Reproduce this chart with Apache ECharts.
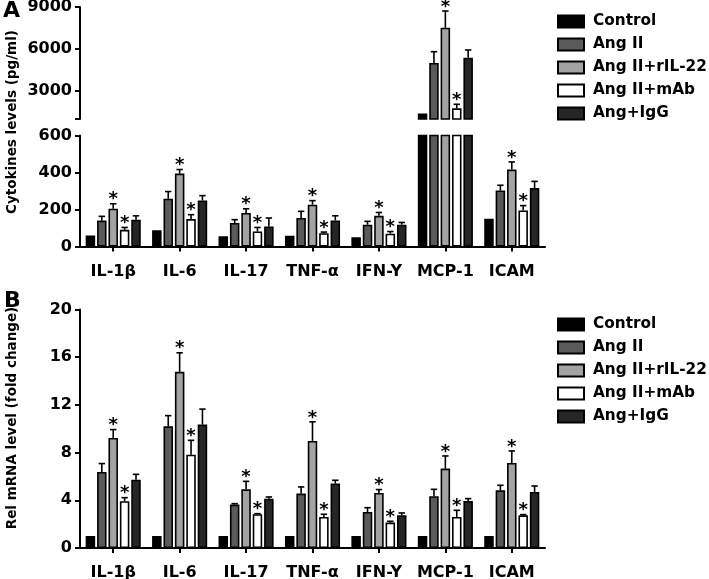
<!DOCTYPE html>
<html>
<head>
<meta charset="utf-8">
<script src="https://cdn.jsdelivr.net/npm/echarts@6.0.0/dist/echarts.min.js"></script>
<style>html,body{margin:0;padding:0;background:#fff;}#c{width:709px;height:579px;}</style>
</head>
<body>
<div id="c"></div>
<script>
// ---------- data ----------
const categories = ['IL-1β', 'IL-6', 'IL-17', 'TNF-α', 'IFN-Y', 'MCP-1', 'ICAM'];
const groupNames = ['Control', 'Ang II', 'Ang II+rIL-22', 'Ang II+mAb', 'Ang+IgG'];

// Panel A: cytokine levels (pg/ml), means and SEM
const ctrlA = [60, 88, 55, 58, 50, 1400, 150];
const angA  = [140, 258, 127, 154, 118, 5000, 303];
const rilA  = [204, 394, 181, 226, 166, 7520, 416];
const mabA  = [90, 148, 81, 72, 69, 1760, 195];
const iggA  = [145, 249, 108, 141, 118, 5380, 316];
const ctrlAErr = [4, 12, 6, 5, 3, 60, 6];
const angAErr  = [23, 39, 18, 36, 18, 807, 28];
const rilAErr  = [27, 22, 23, 22, 18, 1194, 41];
const mabAErr  = [13, 24, 22, 6, 12, 290, 26];
const iggAErr  = [21, 26, 46, 25, 12, 550, 36];
const starRilA = [1, 1, 1, 1, 1, 1, 1];
const starMabA = [1, 1, 1, 1, 1, 1, 1];

// Panel B: relative mRNA level (fold change)
const ctrlB = [1, 1, 1, 1, 1, 1, 1];
const angB  = [6.38, 10.2, 3.64, 4.56, 3.02, 4.34, 4.84];
const rilB  = [9.23, 14.77, 4.92, 8.98, 4.62, 6.66, 7.13];
const mabB  = [3.92, 7.83, 2.83, 2.6, 2.13, 2.6, 2.74];
const iggB  = [5.73, 10.35, 4.14, 5.4, 2.74, 3.94, 4.7];
const ctrlBErr = [0.05, 0.05, 0.05, 0.05, 0.05, 0.05, 0.05];
const angBErr  = [0.7, 0.9, 0.08, 0.56, 0.36, 0.58, 0.42];
const rilBErr  = [0.7, 1.6, 0.67, 1.6, 0.28, 1.06, 1.01];
const mabBErr  = [0.3, 1.2, 0.05, 0.23, 0.11, 0.56, 0.06];
const iggBErr  = [0.45, 1.3, 0.14, 0.28, 0.2, 0.2, 0.5];
const starRilB = [1, 1, 1, 1, 1, 1, 1];
const starMabB = [1, 1, 1, 1, 1, 1, 1];

const yTicksA_upper = [3000, 6000, 9000];
const yTicksA_lower = [0, 200, 400, 600];
const yTicksB = [0, 4, 8, 12, 16, 20];

// ---------- styling ----------
const FONT = 'DejaVu Sans';
const colors = ['#000000', '#5a5a5a', '#a3a3a3', '#ffffff', '#262626'];
const BAR_W = 9.5, GAP = 0.2, PITCH = BAR_W * (1 + GAP);
const BREAK_MIN = 1000;

const meansA = [ctrlA, angA, rilA, mabA, iggA];
const errsA = [ctrlAErr, angAErr, rilAErr, mabAErr, iggAErr];
const starsA = [null, null, starRilA, starMabA, null];
const meansB = [ctrlB, angB, rilB, mabB, iggB];
const errsB = [ctrlBErr, angBErr, rilBErr, mabBErr, iggBErr];
const starsB = [null, null, starRilB, starMabB, null];

function barSeries(i, means, axisIdx, filter) {
  return {
    type: 'bar', name: groupNames[i],
    xAxisIndex: axisIdx, yAxisIndex: axisIdx,
    data: means.map(v => filter(v) ? v : '-'),
    barWidth: BAR_W, barGap: (GAP * 100) + '%',
    clip: true,
    itemStyle: { color: colors[i], borderColor: '#000', borderWidth: 1.6 },
    emphasis: { disabled: true },
    animation: false
  };
}

function errSeries(i, means, errs, stars, axisIdx, filter) {
  const data = [];
  means.forEach((m, j) => {
    if (filter(m)) data.push([j, m, m + errs[j], stars && stars[j] ? 1 : 0]);
  });
  return {
    type: 'custom', name: groupNames[i] + ' err',
    xAxisIndex: axisIdx, yAxisIndex: axisIdx,
    data: data, z: 5, animation: false, silent: true,
    renderItem: function (params, api) {
      const cat = api.value(0), m = api.value(1), t = api.value(2), star = api.value(3);
      const pb = api.coord([cat, m]);
      const pt = api.coord([cat, t]);
      const x = pb[0] + (i - 2) * PITCH;
      const children = [
        { type: 'line', shape: { x1: x, y1: pb[1], x2: x, y2: pt[1] }, style: { stroke: '#000', lineWidth: 1.6 } },
        { type: 'line', shape: { x1: x - 3.2, y1: pt[1], x2: x + 3.2, y2: pt[1] }, style: { stroke: '#000', lineWidth: 1.6 } }
      ];
      if (star) {
        children.push({ type: 'text', style: { text: '*', x: x, y: pt[1] + 5, align: 'center', verticalAlign: 'bottom',
          font: 'bold 18px "' + FONT + '"', fill: '#000' } });
      }
      return { type: 'group', children: children };
    }
  };
}

const plain = v => String(v);
const axisLineStyle = { show: true, lineStyle: { color: '#000', width: 2 } };
const tickStyle = { show: true, length: 5, lineStyle: { color: '#000', width: 2 } };
const yLabelStyle = { color: '#000', fontFamily: FONT, fontWeight: 'bold', fontSize: 16, margin: 8, formatter: plain };
const xLabelStyle = { color: '#000', fontFamily: FONT, fontWeight: 'bold', fontSize: 16, margin: 17, interval: 0 };

const series = [];
for (let i = 0; i < 5; i++) {
  series.push(barSeries(i, meansA[i], 0, v => v > BREAK_MIN));
  series.push(barSeries(i, meansA[i], 1, v => true));
  series.push(barSeries(i, meansB[i], 2, v => true));
}
for (let i = 1; i < 5; i++) {
  series.push(errSeries(i, meansA[i], errsA[i], starsA[i], 0, v => v > BREAK_MIN));
  series.push(errSeries(i, meansA[i], errsA[i], starsA[i], 1, v => v <= 600));
  series.push(errSeries(i, meansB[i], errsB[i], starsB[i], 2, v => true));
}

const legendCommon = {
  orient: 'vertical', left: 552, padding: 5, icon: 'rect', itemWidth: 26, itemHeight: 12, itemGap: 6,
  data: groupNames, selectedMode: false,
  textStyle: { color: '#000', fontFamily: FONT, fontWeight: 'bold', fontSize: 15.3, lineHeight: 17, padding: [0, 0, 0, 4] },
  itemStyle: { borderColor: '#000', borderWidth: 2 }
};

const option = {
  backgroundColor: '#fff',
  animation: false,
  textStyle: { fontFamily: FONT },
  grid: [
    { left: 80, top: 7, width: 465, height: 112, outerBoundsMode: 'none', containLabel: false },
    { left: 80, top: 135.5, width: 465, height: 111, outerBoundsMode: 'none', containLabel: false },
    { left: 80, top: 309.5, width: 465, height: 238.5, outerBoundsMode: 'none', containLabel: false }
  ],
  xAxis: [
    { type: 'category', gridIndex: 0, data: categories, show: false },
    { type: 'category', gridIndex: 1, data: categories, axisLine: axisLineStyle,
      axisTick: Object.assign({ alignWithLabel: true }, tickStyle), axisLabel: xLabelStyle },
    { type: 'category', gridIndex: 2, data: categories, axisLine: axisLineStyle,
      axisTick: Object.assign({ alignWithLabel: true }, tickStyle), axisLabel: xLabelStyle }
  ],
  yAxis: [
    { type: 'value', gridIndex: 0, min: BREAK_MIN, max: 9000, axisLine: axisLineStyle,
      axisTick: Object.assign({ customValues: [BREAK_MIN].concat(yTicksA_upper) }, tickStyle),
      axisLabel: Object.assign({ customValues: yTicksA_upper }, yLabelStyle), splitLine: { show: false } },
    { type: 'value', gridIndex: 1, min: 0, max: 600, interval: 200, axisLine: axisLineStyle,
      axisTick: Object.assign({ customValues: yTicksA_lower }, tickStyle),
      axisLabel: Object.assign({ customValues: yTicksA_lower }, yLabelStyle), splitLine: { show: false } },
    { type: 'value', gridIndex: 2, min: 0, max: 20, interval: 4, axisLine: axisLineStyle,
      axisTick: Object.assign({ customValues: yTicksB }, tickStyle),
      axisLabel: Object.assign({ customValues: yTicksB }, yLabelStyle), splitLine: { show: false } }
  ],
  legend: [
    Object.assign({ top: 8 }, legendCommon),
    Object.assign({ top: 311 }, legendCommon)
  ],
  graphic: [
    { type: 'text', left: 3, top: 0, style: { text: 'A', font: 'bold 22px "' + FONT + '"', fill: '#000' } },
    { type: 'text', left: 4, top: 290, style: { text: 'B', font: 'bold 22px "' + FONT + '"', fill: '#000' } },
    { type: 'text', x: 12, y: 122, rotation: Math.PI / 2,
      style: { text: 'Cytokines levels (pg/ml)', font: 'bold 13.5px "' + FONT + '"', fill: '#000', align: 'center', verticalAlign: 'middle' } },
    { type: 'text', x: 12, y: 418, rotation: Math.PI / 2,
      style: { text: 'Rel mRNA level (fold change)', font: 'bold 13.5px "' + FONT + '"', fill: '#000', align: 'center', verticalAlign: 'middle' } }
  ],
  series: series
};

const chart = echarts.init(document.getElementById('c'), null, { renderer: 'canvas' });
chart.setOption(option);
</script>
</body>
</html>
